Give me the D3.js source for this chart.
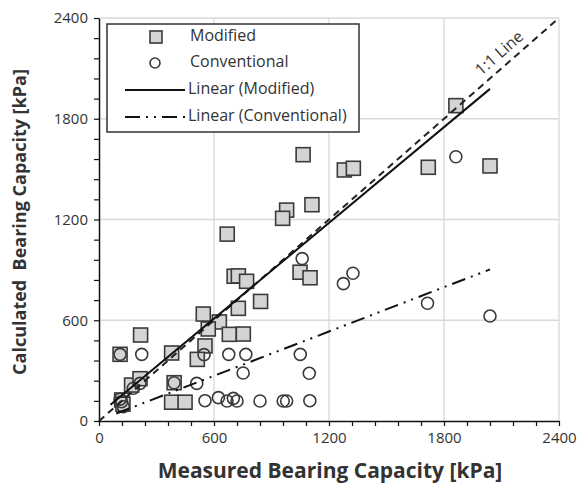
<!DOCTYPE html>
<html><head><meta charset="utf-8">
<script src="https://cdn.jsdelivr.net/npm/d3@7"></script>
<style>
body{margin:0;background:#fff;}
text{font-family:"Open Sans",Calibri,sans-serif;}
</style></head>
<body><svg id="c" width="585" height="492"></svg>
<script>
// Modified: [measured, calculated]
const modMeasured = [110,217,379,170,214,118,125,392,379,449,544,727,843,628,570,680,753,553,513,669,1065,1280,1327,1111,979,958,1049,1101,705,727,770,1862,1718,2040];
const modCalculated = [397,512,405,214,252,125,100,228,112,112,637,671,712,590,548,516,518,447,367,1113,1586,1495,1505,1288,1256,1207,886,853,862,864,832,1878,1511,1519];
// Conventional
const convMeasured = [110,223,214,179,118,127,110,392,510,548,677,766,1050,752,1097,553,623,668,701,720,840,961,979,1100,1060,1275,1325,1862,1714,2040];
const convCalculated = [397,397,224,195,115,85,130,228,224,395,397,397,397,286,284,121,139,119,135,119,119,119,119,121,967,818,880,1574,701,625];
// Linear trend lines (slope, intercept, x-range)
const trendModified = {slope:0.95, intercept:40, x0:60, x1:2040};
const trendConventional = {slope:0.44, intercept:5, x0:90, x1:2040};
const tickValues = d3.range(0, 2401, 120);
const labelTicks = [0,600,1200,1800,2400];
const legendLabels = ["Modified","Conventional","Linear (Modified)","Linear (Conventional)"];

const svg = d3.select("#c");
const x = d3.scaleLinear().domain([0,2400]).range([99,559]);
const y = d3.scaleLinear().domain([0,2400]).range([421,18]);

// grid
const grid = svg.append("g");
labelTicks.filter(d=>d>0).forEach(d=>{
  grid.append("line").attr("x1",x(d)).attr("x2",x(d)).attr("y1",y(0)).attr("y2",y(2400)).attr("stroke","#d9d9d9").attr("stroke-width",1.3);
  grid.append("line").attr("x1",x(0)).attr("x2",x(2400)).attr("y1",y(d)).attr("y2",y(d)).attr("stroke","#d9d9d9").attr("stroke-width",1.3);
});

// axes
const fmt = d => labelTicks.includes(d) ? d : "";
const xa = svg.append("g").attr("transform",`translate(0,${y(0)})`)
  .call(d3.axisBottom(x).tickValues(tickValues).tickFormat(fmt).tickSize(5).tickSizeOuter(0).tickPadding(6));
const ya = svg.append("g").attr("transform",`translate(${x(0)},0)`)
  .call(d3.axisLeft(y).tickValues(tickValues).tickFormat(fmt).tickSize(5).tickSizeOuter(0).tickPadding(6));
[xa,ya].forEach(a=>{
  a.select(".domain").attr("stroke","#111").attr("stroke-width",1.5);
  a.selectAll(".tick line").attr("stroke","#111").attr("stroke-width",1.2);
  a.selectAll(".tick text").attr("font-size",15).attr("fill","#333").style("font-family","'Open Sans',sans-serif");
});

// markers
const mod = modMeasured.map((m,i)=>[m,modCalculated[i]]);
const conv = convMeasured.map((m,i)=>[m,convCalculated[i]]);
const s = 14;
svg.append("g").selectAll("rect").data(mod).join("rect")
  .attr("x",d=>x(d[0])-s/2).attr("y",d=>y(d[1])-s/2).attr("width",s).attr("height",s)
  .attr("fill","#d4d4d4").attr("stroke","#3a3a3a").attr("stroke-width",1.6);
svg.append("g").selectAll("circle").data(conv).join("circle")
  .attr("cx",d=>x(d[0])).attr("cy",d=>y(d[1])).attr("r",6)
  .attr("fill","none").attr("stroke","#3a3a3a").attr("stroke-width",1.6);

// lines
const line = d3.line().x(d=>x(d[0])).y(d=>y(d[1]));
svg.append("path").attr("d",line([[0,0],[2400,2400]])).attr("stroke","#222").attr("stroke-width",2).attr("stroke-dasharray","7,5").attr("fill","none");
const tm = trendModified, tc = trendConventional;
svg.append("path").attr("d",line([[tm.x0,tm.slope*tm.x0+tm.intercept],[tm.x1,tm.slope*tm.x1+tm.intercept]])).attr("stroke","#111").attr("stroke-width",2).attr("fill","none");
svg.append("path").attr("d",line([[tc.x0,tc.slope*tc.x0+tc.intercept],[tc.x1,tc.slope*tc.x1+tc.intercept]])).attr("stroke","#111").attr("stroke-width",2).attr("stroke-dasharray","14,6,2,6,2,6").attr("fill","none");

// 1:1 label
const ang = -Math.atan2(y(0)-y(2400), x(2400)-x(0))*180/Math.PI;
svg.append("text").attr("transform",`translate(500,54) rotate(${ang})`).attr("text-anchor","middle").attr("dominant-baseline","middle")
  .attr("font-size",16).attr("fill","#333").text("1:1 Line");

// legend
const lg = svg.append("g");
lg.append("rect").attr("x",107).attr("y",24).attr("width",252).attr("height",108).attr("fill","#fff").attr("stroke","#333").attr("stroke-width",1.5);
const rows = [37,63,90,117];
lg.append("rect").attr("x",156-6).attr("y",rows[0]-6).attr("width",12).attr("height",12).attr("fill","#d4d4d4").attr("stroke","#3a3a3a").attr("stroke-width",1.6);
lg.append("circle").attr("cx",155).attr("cy",rows[1]).attr("r",5).attr("fill","none").attr("stroke","#3a3a3a").attr("stroke-width",1.6);
lg.append("line").attr("x1",125).attr("x2",185).attr("y1",rows[2]).attr("y2",rows[2]).attr("stroke","#111").attr("stroke-width",2);
lg.append("line").attr("x1",125).attr("x2",185).attr("y1",rows[3]).attr("y2",rows[3]).attr("stroke","#111").attr("stroke-width",2).attr("stroke-dasharray","15,6,2,6,2,6");
legendLabels.forEach((t,i)=>{
  lg.append("text").attr("x",i<2?190:188).attr("y",rows[i]).attr("dominant-baseline","middle").attr("font-size",16).attr("fill","#333").text(t);
});

// axis titles
svg.append("text").attr("x",330).attr("y",478).attr("text-anchor","middle").attr("font-size",21).attr("font-weight","bold").attr("fill","#333").text("Measured Bearing Capacity [kPa]");
svg.append("text").attr("transform","translate(26,222) rotate(-90)").attr("text-anchor","middle").attr("font-size",18).attr("font-weight","bold").attr("fill","#333").style("white-space","pre").text("Calculated  Bearing Capacity [kPa]");
</script></body></html>
